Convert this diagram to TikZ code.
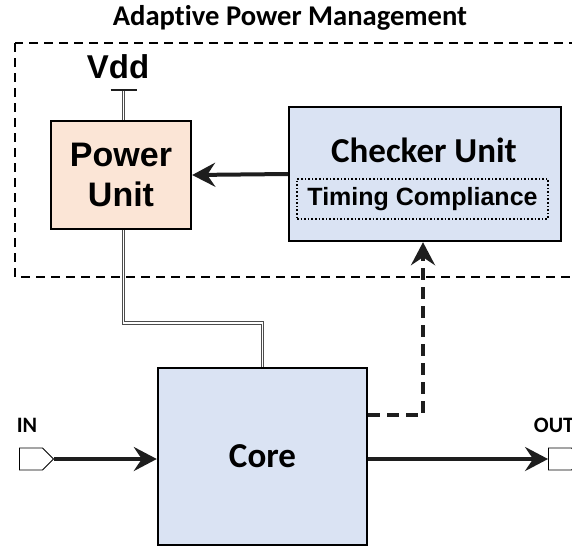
\documentclass[tikz,border=0pt]{standalone}
\usepackage{fontspec}
\setmainfont{Carlito}[Ligatures=NoCommon]
\newfontfamily\arialfont{Liberation Sans}
\usetikzlibrary{arrows.meta,shapes.symbols,calc}
\definecolor{peach}{HTML}{FBE5D6}
\definecolor{paleblue}{HTML}{DAE3F3}
\definecolor{ink}{HTML}{1E1E1E}

\begin{document}
\begin{tikzpicture}[x=1pt,y=-1pt,
  block/.style={draw=black, line width=2.4pt, inner sep=0pt},
  tip/.style={-{Stealth[length=23pt,width=24pt,inset=8pt]}},
  bigarrow/.style={line width=4pt, draw=ink, tip},
  sensearrow/.style={line width=4pt, draw=ink, dash pattern=on 12pt off 7pt, tip},
  powerline/.style={draw=black!70, line width=1pt, double=white, double distance=1.6pt},
  region/.style={draw=black, line width=2pt, dash pattern=on 9pt off 6pt},
  port/.style={signal, signal to=east, signal pointer angle=90, draw=black, line width=0.9pt,
               fill=white, minimum width=34pt, minimum height=22pt, inner sep=0pt},
  portlabel/.style={font=\fontsize{22}{26}\selectfont\bfseries},
]
\useasboundingbox (0,0) rectangle (572,547);

% Adaptive power management region
\draw[region] (15,43) rectangle (610,277);
\node[font=\fontsize{28.6}{32}\selectfont\bfseries] (title) at (290,18) {Adaptive Power Management};

% Blocks
\node[block, fill=peach, minimum width=140pt, minimum height=108pt,
      align=center, font=\arialfont\fontsize{34}{40}\selectfont\bfseries] (power) at (121,175) {Power\\Unit};
\node[block, fill=paleblue, minimum width=272pt, minimum height=134pt] (checker) at (425,174) {};
\node[font=\fontsize{35}{40}\selectfont\bfseries] (checkertitle) at (424,150) {Checker Unit};
\node[draw=black, line width=1.6pt, dotted, minimum width=251pt, minimum height=40pt,
      inner sep=0pt, font=\arialfont\fontsize{25}{28}\selectfont\bfseries] (timing) at (422.5,199) {Timing Compliance};
\node[block, fill=paleblue, minimum width=209pt, minimum height=177pt,
      font=\fontsize{35}{40}\selectfont\bfseries] (core) at (262.5,456.5) {Core};

% Supply
\coordinate (vdd) at (123.5,90);
\node[font=\arialfont\fontsize{33}{36}\selectfont\bfseries] (vddlabel) at (118,67) {Vdd};
\draw[powerline] (vdd) -- (vdd |- power.north);
\draw[line width=2pt, draw=ink] ($(vdd)+(-13,0)$) -- ($(vdd)+(13,0)$);
\draw[powerline] (power.south -| vdd) -- ++(0,93) -| (core.north);

% I/O ports
\node[port] (in) at (31,459) {};
\node[portlabel] (inlabel) at (27,425) {IN};
\node[port] (out) at (560,459) {};
\node[portlabel] (outlabel) at (554,425) {OUT};

% Connectors
\draw[bigarrow] (checker.west) -- (power.east);
\draw[bigarrow] (in.east) -- (core.west |- in.east);
\draw[bigarrow] (core.east |- out.west) -- (out.west);
\coordinate (tap) at (423,415);
\draw[sensearrow] (core.east |- tap) -- (tap) -- (tap |- checker.south);
\end{tikzpicture}
\end{document}
